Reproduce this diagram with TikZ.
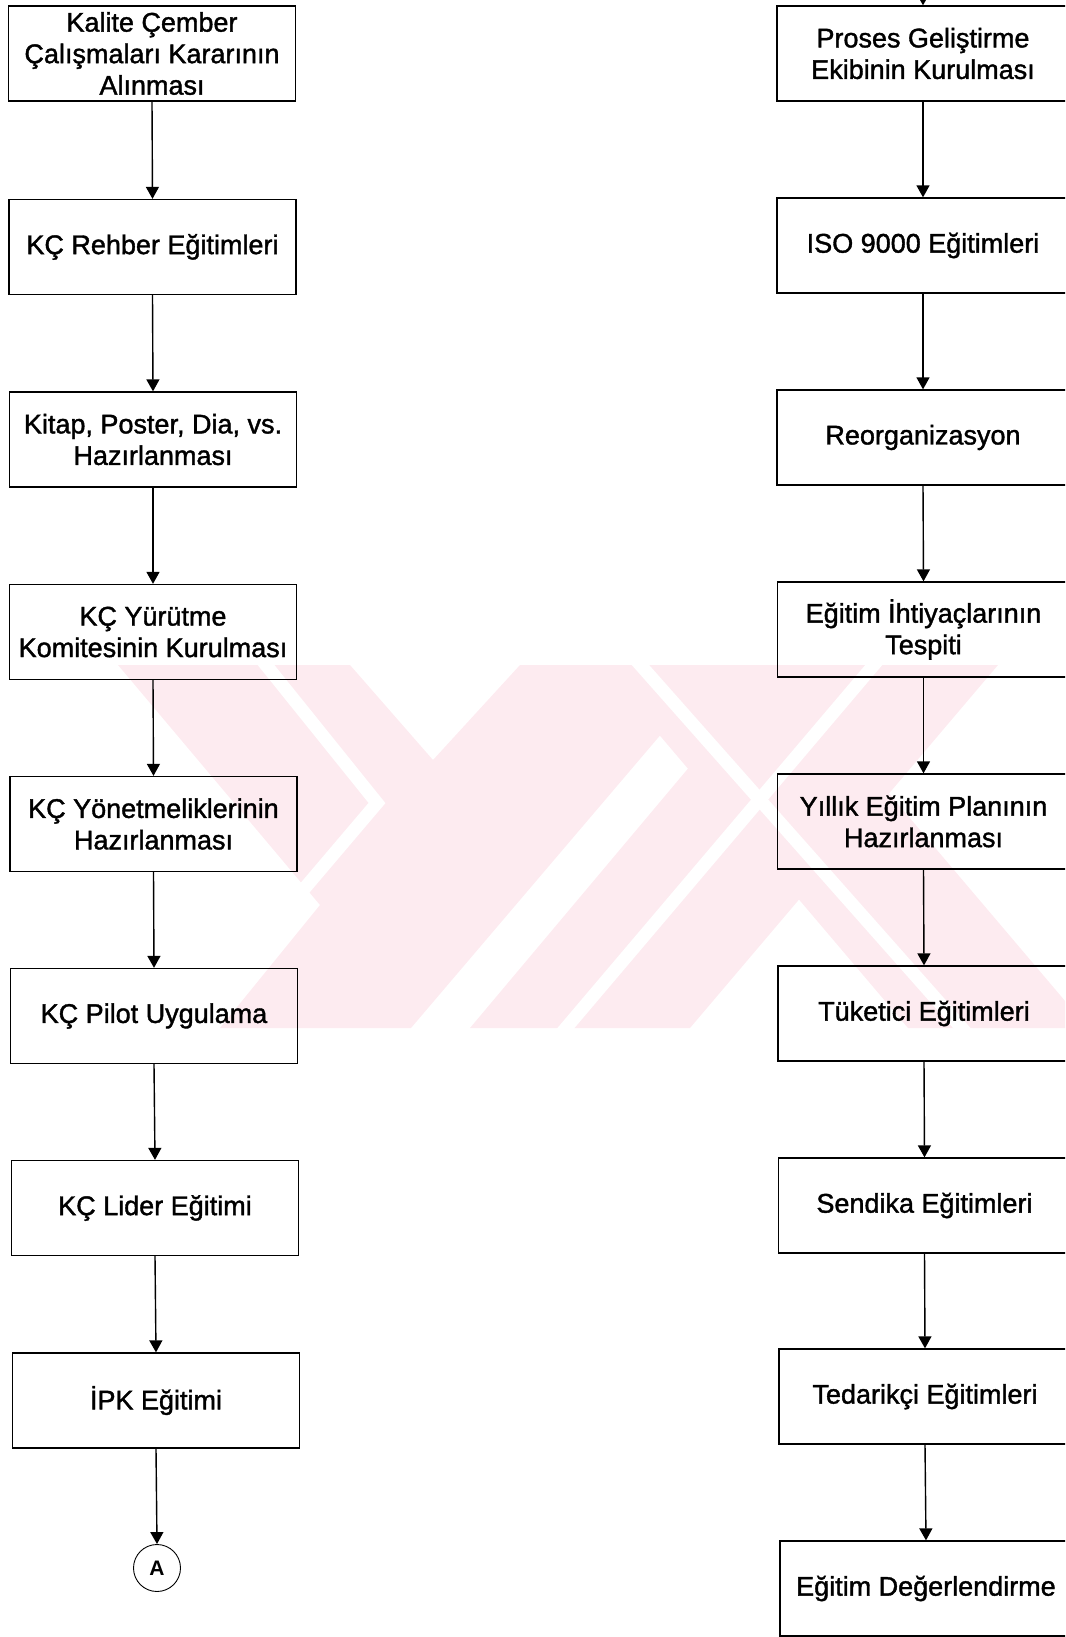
\documentclass[tikz,border=0pt]{standalone}
\usepackage{fontspec}
\setmainfont{Liberation Sans}[BoldFont=Liberation Sans, BoldFeatures={FakeBold=1.4}]
\usetikzlibrary{arrows.meta}
\definecolor{wmpink}{RGB}{253,235,240}
\begin{document}
\begin{tikzpicture}[x=1pt,y=-1pt,
  flowbox/.style={draw=black, line width=1.3pt, minimum width=287pt,
    minimum height=95pt, align=center, inner sep=0pt,
    font=\bfseries\fontsize{27}{31.5}\selectfont},
  widebox/.style={flowbox, minimum width=292pt},
  flow/.style={draw=black, line width=1.4pt,
    -{Triangle[length=12pt,width=13pt]}},
  connector/.style={circle, draw=black, line width=0.9pt, minimum size=47pt,
    inner sep=0pt, font=\fontsize{21}{24}\selectfont\fontspec{Liberation Sans Bold}},
  gap/.style={draw=white, line width=13pt},
]
\useasboundingbox (0,0) rectangle (1065,1637);
\clip (0,0) rectangle (1065,1637);

% faint background emblem: a chevron and a cross of bands
\fill[wmpink] (118,665) -- (350,665) -- (433,760) -- (520,665) -- (720,665)
  -- (411,1028) -- (220,1028) -- (320,905) -- cycle;
\fill[wmpink] (470,1028) -- (690,1028) -- (998,665) -- (775,665) -- cycle;
\fill[wmpink] (600,665) -- (780,665) -- (1088,1028) -- (908,1028) -- cycle;
\draw[gap] (262,660) -- (377,803) -- (180,1035);
\draw[gap] (636,660) -- (968,1035);
\draw[gap] (560,1035) -- (878,660);

% left column
\node[flowbox] (l1) at (152,53.5) {Kalite Çember\\Çalışmaları Kararının\\Alınması};
\node[flowbox] (l2) at (152.5,247) {KÇ Rehber Eğitimleri};
\node[flowbox] (l3) at (153,439.5) {Kitap, Poster, Dia, vs.\\Hazırlanması};
\node[flowbox] (l4) at (153,632) {KÇ Yürütme\\Komitesinin Kurulması};
\node[flowbox] (l5) at (153.5,824) {KÇ Yönetmeliklerinin\\Hazırlanması};
\node[flowbox] (l6) at (154,1016) {KÇ Pilot Uygulama};
\node[flowbox] (l7) at (155,1208) {KÇ Lider Eğitimi};
\node[flowbox] (l8) at (156,1400.5) {İPK Eğitimi};
\node[connector] (cA) at (157,1568) {A};

% right column
\coordinate (rin) at (923,-40);
\node[widebox] (r1) at (923,53.5) {Proses Geliştirme\\Ekibinin Kurulması};
\node[widebox] (r2) at (923,245.5) {ISO 9000 Eğitimleri};
\node[widebox] (r3) at (923,437.5) {Reorganizasyon};
\node[widebox] (r4) at (923.5,629.5) {Eğitim İhtiyaçlarının\\Tespiti};
\node[widebox] (r5) at (923.5,821.5) {Yıllık Eğitim Planının\\Hazırlanması};
\node[widebox] (r6) at (924,1013.5) {Tüketici Eğitimleri};
\node[widebox] (r7) at (924.5,1205.5) {Sendika Eğitimleri};
\node[widebox] (r8) at (925,1396.5) {Tedarikçi Eğitimleri};
\node[widebox] (r9) at (926,1588.5) {Eğitim Değerlendirme};

% connectors
\foreach \a/\b in {l1/l2,l2/l3,l3/l4,l4/l5,l5/l6,l6/l7,l7/l8,l8/cA,
                   r1/r2,r2/r3,r3/r4,r4/r5,r5/r6,r6/r7,r7/r8,r8/r9}
  \draw[flow] (\a.south) -- (\b.north);
\draw[flow] (rin) -- (r1.north);
\end{tikzpicture}
\end{document}
